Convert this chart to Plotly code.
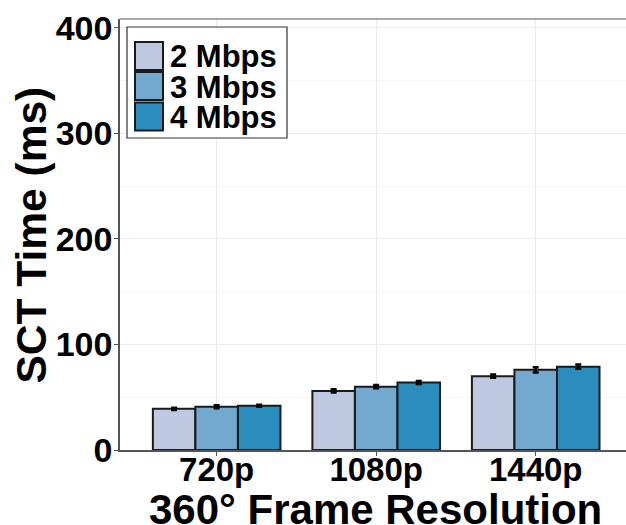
import plotly.graph_objects as go

categories = ["720p", "1080p", "1440p"]
series_names = ["2 Mbps", "3 Mbps", "4 Mbps"]
series_values = [
    [39, 56, 70],
    [41, 60, 76],
    [42, 64, 79],
]
series_errors = [
    [1.0, 1.5, 1.5],
    [1.5, 1.5, 2.5],
    [1.0, 1.5, 2.0],
]
colors = ["#BDC9E1", "#74A9CF", "#2B8CBE"]
y_ticks = [0, 100, 200, 300, 400]
x_title = "360° Frame Resolution"
y_title = "SCT Time (ms)"

FONT = "Liberation Sans, Arial, sans-serif"

fig = go.Figure()
for name, vals, errs, col in zip(series_names, series_values, series_errors, colors):
    fig.add_trace(go.Bar(
        x=categories, y=vals, name=name,
        marker=dict(color=col, line=dict(color="#1a1a1a", width=2)),
        error_y=dict(type="data", array=errs, color="black", thickness=2.5, width=3),
        showlegend=False,
    ))

W, H = 506.0, 431.0
def px(x):
    return (x - 120) / W
def py(y):
    return (450 - y) / H

shapes = [
    dict(type="rect", xref="paper", yref="paper",
         x0=px(127), x1=px(287), y0=py(138), y1=py(27),
         line=dict(color="#333333", width=1.2), fillcolor="white", layer="above"),
    dict(type="line", xref="paper", yref="paper", x0=0, x1=1, y0=1, y1=1,
         line=dict(color="#AAAAAA", width=2)),
]
annotations = []
row_tops = [42, 72, 102.5]
for i, (name, col) in enumerate(zip(series_names, colors)):
    t = row_tops[i]
    shapes.append(dict(type="rect", xref="paper", yref="paper",
                       x0=px(135), x1=px(163), y0=py(t + 28), y1=py(t),
                       line=dict(color="#1a1a1a", width=2), fillcolor=col, layer="above"))
    annotations.append(dict(xref="paper", yref="paper", x=px(168), y=py(t + 15),
                            text=name, showarrow=False, xanchor="left", yanchor="middle",
                            font=dict(family=FONT, size=31, color="black", weight="bold")))

annotations.append(dict(xref="paper", yref="paper", x=px(375.5), y=py(509),
                        text=x_title, showarrow=False, xanchor="center", yanchor="middle",
                        font=dict(family=FONT, size=42, color="black", weight="bold")))
annotations.append(dict(xref="paper", yref="paper", x=px(31), y=py(235.5),
                        text=y_title, showarrow=False, xanchor="center", yanchor="middle",
                        textangle=-90,
                        font=dict(family=FONT, size=42.5, color="black", weight="bold")))

fig.update_layout(
    width=626, height=525,
    margin=dict(l=120, r=0, t=19, b=75, autoexpand=False),
    paper_bgcolor="white", plot_bgcolor="white",
    barmode="group", bargap=0.2, bargroupgap=0,
    font=dict(family=FONT, color="black", weight="bold"),
    shapes=shapes, annotations=annotations,
    showlegend=False,
)
fig.update_xaxes(
    range=[-0.606, 2.566], automargin=False,
    showline=True, linecolor="#555555", linewidth=1.5,
    ticks="outside", ticklen=4, tickcolor="#555555",
    showgrid=True, gridcolor="#EBEBEB", gridwidth=1,
    tickfont=dict(family=FONT, size=33, color="black", weight="bold"),
    ticklabelstandoff=-14,
)
fig.update_yaxes(
    range=[0, 408.5], automargin=False,
    tickvals=y_ticks,
    showline=True, linecolor="#555555", linewidth=1.5,
    ticks="outside", ticklen=4, tickcolor="#555555",
    showgrid=True, gridcolor="#EBEBEB", gridwidth=1,
    minor=dict(dtick=50, tick0=50, showgrid=True, gridcolor="#F5F5F5", ticks=""),
    zeroline=False,
    tickfont=dict(family=FONT, size=34, color="black", weight="bold"),
    ticklabelstandoff=-5,
)

fig.write_html(
    "out.html",
    config={"displayModeBar": False},
    post_script="document.body.style.margin='0';document.documentElement.style.overflow='hidden';",
)
